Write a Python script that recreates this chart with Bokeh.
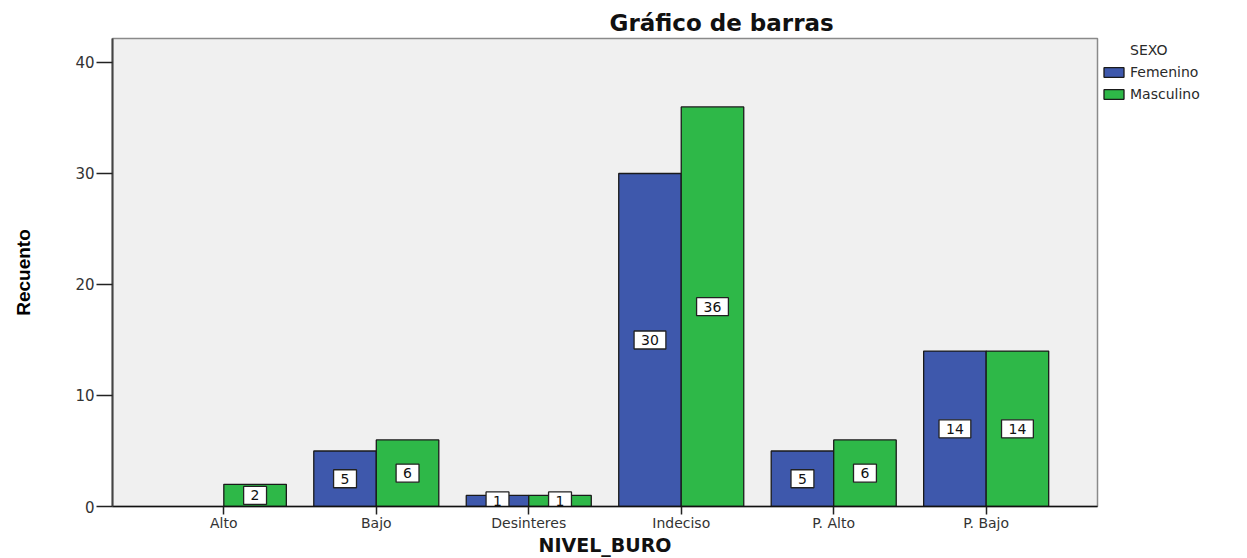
from bokeh.plotting import figure
from bokeh.models import ColumnDataSource, FactorRange, Range1d, FixedTicker, Legend, LegendItem
from bokeh.transform import dodge
from bokeh.core.properties import value
from bokeh.embed import file_html
from bokeh.resources import INLINE

categories = ["Alto", "Bajo", "Desinteres", "Indeciso", "P. Alto", "P. Bajo"]
femenino = [0, 5, 1, 30, 5, 14]
masculino = [2, 6, 1, 36, 6, 14]
series_names = ["Femenino", "Masculino"]
series_colors = ["#3E58AC", "#2EB848"]
y_ticks = [0, 10, 20, 30, 40]
legend_title = "SEXO"

p = figure(
    x_range=FactorRange(factors=categories, range_padding=0.0767),
    y_range=Range1d(0, 42.16),
    frame_width=985, frame_height=468,
    output_backend="svg", toolbar_location=None,
    min_border_left=112, min_border_top=38, min_border_right=148, min_border_bottom=50,
    title="Gráfico de barras",
)

p.background_fill_color = "#F0F0F0"
p.border_fill_color = "white"
p.outline_line_color = "#8a8a8a"
p.outline_line_width = 1.5
p.xgrid.grid_line_color = None
p.ygrid.grid_line_color = None

p.title.text_font = "DejaVu Sans"
p.title.text_font_size = "23px"
p.title.text_font_style = "bold"
p.title.text_color = "#111111"
p.title.align = "left"
p.title.offset = 497
p.title.standoff = 6

renderers = []
for vals, off, color in [(femenino, -0.205, series_colors[0]), (masculino, 0.205, series_colors[1])]:
    cats = [c for c, v in zip(categories, vals) if v > 0]
    vs = [v for v in vals if v > 0]
    src = ColumnDataSource(dict(cat=cats, val=vs, mid=[v / 2 for v in vs], lbl=[str(v) for v in vs]))
    r = p.vbar(x=dodge("cat", off, range=p.x_range), top="val", width=0.41, source=src,
               fill_color=color, line_color="#1a1a1a", line_width=1.3)
    renderers.append(r)
    p.text(x=dodge("cat", off, range=p.x_range), y="mid", text="lbl", source=src,
           text_align="center", text_baseline="middle",
           text_font=value("DejaVu Sans"), text_font_size="14px", text_color="#111111",
           background_fill_color="white", border_line_color="#222222", border_line_width=1.3,
           padding=dict(left=7, right=7, top=4, bottom=4))

# invisible renderer used only to carry the legend heading
heading_src = ColumnDataSource(dict(cat=[], val=[]))
heading_r = p.vbar(x="cat", top="val", width=0.41, source=heading_src,
                   fill_alpha=0, line_alpha=0)

# Y axis
ya = p.yaxis[0]
ya.ticker = FixedTicker(ticks=y_ticks)
ya.axis_label = "Recuento"
ya.axis_label_text_font = "Liberation Sans"
ya.axis_label_text_font_size = "19px"
ya.axis_label_text_font_style = "bold"
ya.axis_label_text_color = "#000000"
ya.axis_label_standoff = 38
ya.axis_line_color = "#444444"
ya.axis_line_width = 2
ya.major_tick_out = 16
ya.major_tick_in = 0
ya.major_tick_line_color = "#222222"
ya.major_tick_line_width = 1.5
ya.minor_tick_line_color = None
ya.major_label_standoff = 2
ya.major_label_text_font = "DejaVu Sans"
ya.major_label_text_font_size = "15px"
ya.major_label_text_color = "#333333"

# X axis
xa = p.xaxis[0]
xa.axis_label = "NIVEL_BURO"
xa.axis_label_text_font = "DejaVu Sans"
xa.axis_label_text_font_size = "19px"
xa.axis_label_text_font_style = "bold"
xa.axis_label_text_color = "#111111"
xa.axis_label_standoff = 0
xa.axis_line_color = "#111111"
xa.axis_line_width = 1.5
xa.major_tick_out = 8
xa.major_tick_in = 0
xa.major_tick_line_color = "#222222"
xa.major_tick_line_width = 1.5
xa.major_label_standoff = 0
xa.major_label_text_font = "DejaVu Sans"
xa.major_label_text_font_size = "14px"
xa.major_label_text_color = "#333333"

items = [LegendItem(label=legend_title, renderers=[heading_r])]
items += [LegendItem(label=n, renderers=[r]) for n, r in zip(series_names, renderers)]
legend = Legend(items=items)
legend.location = "top_left"
legend.label_text_font = "DejaVu Sans"
legend.label_text_font_size = "14px"
legend.label_text_color = "#2a2a2a"
legend.glyph_width = 25
legend.glyph_height = 12
legend.label_height = 14
legend.label_standoff = 4
legend.spacing = 6
legend.padding = 2
legend.margin = 4
legend.border_line_color = None
legend.background_fill_alpha = 0
p.add_layout(legend, "right")

open("out.html", "w").write(file_html(p, INLINE))
